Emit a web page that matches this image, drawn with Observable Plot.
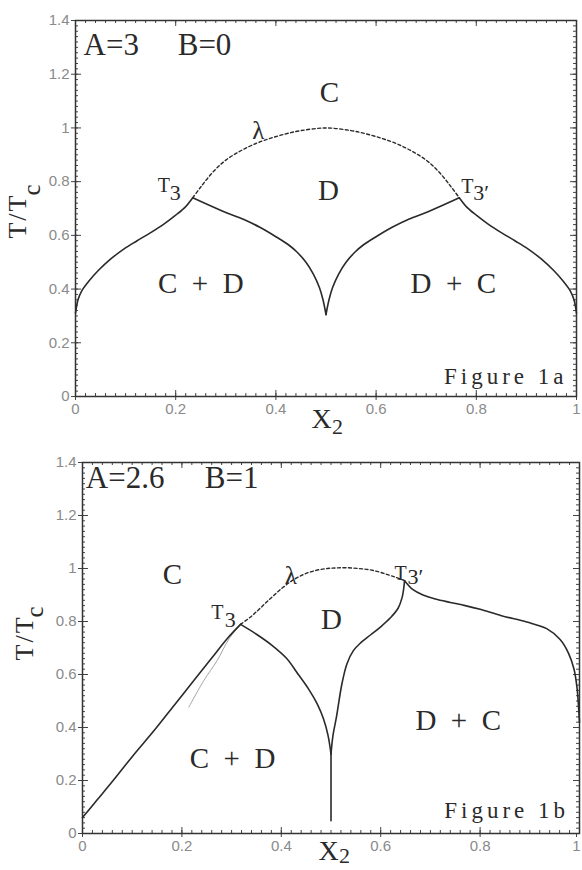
<!DOCTYPE html>
<html>
<head>
<meta charset="utf-8">
<script src="https://cdn.jsdelivr.net/npm/d3@7"></script>
<script src="https://cdn.jsdelivr.net/npm/@observablehq/plot@0.6"></script>
<style>
  body { margin: 0; background: #fff; }
  #wrap { position: relative; width: 582px; height: 870px; overflow: hidden; background: #fff; }
  #wrap svg { position: absolute; left: 0; }
</style>
</head>
<body>
<div id="wrap"></div>
<script>
// ---------- tick values ----------
const xTicks = [0, 0.2, 0.4, 0.6, 0.8, 1];
const yTicks = [0, 0.2, 0.4, 0.6, 0.8, 1, 1.2, 1.4];
const xMinor = d3.range(0, 1.0001, 0.02);
const yMinor = d3.range(0, 1.4001, 0.02);

// ---------- Figure 1a : A=3, B=0 ----------  [x2, T/Tc]
const a_lambda = [[0.234,0.74],[0.25,0.78],[0.274,0.835],[0.3,0.88],[0.33,0.915],[0.36,0.942],[0.39,0.962],[0.42,0.978],[0.45,0.99],[0.5,1.0],[0.55,0.99],[0.58,0.978],[0.61,0.962],[0.64,0.942],[0.67,0.915],[0.7,0.88],[0.726,0.835],[0.75,0.78],[0.766,0.74]];
const a_leftRise = [[0,0.31],[0.005,0.36],[0.013,0.395],[0.026,0.428],[0.045,0.468],[0.071,0.513],[0.097,0.55],[0.123,0.58],[0.15,0.61],[0.175,0.64],[0.2,0.675],[0.219,0.705],[0.234,0.74]];
const a_leftFall = [[0.234,0.74],[0.294,0.69],[0.335,0.66],[0.368,0.63],[0.4,0.595],[0.425,0.565],[0.442,0.538],[0.46,0.5],[0.475,0.455],[0.487,0.405],[0.494,0.36],[0.5,0.305]];
const a_rightRise = [[0.5,0.305],[0.506,0.36],[0.513,0.405],[0.525,0.455],[0.54,0.5],[0.558,0.538],[0.575,0.565],[0.6,0.595],[0.632,0.63],[0.665,0.66],[0.706,0.69],[0.766,0.74]];
const a_rightFall = [[0.766,0.74],[0.781,0.705],[0.8,0.675],[0.825,0.64],[0.85,0.61],[0.877,0.58],[0.903,0.55],[0.929,0.513],[0.955,0.468],[0.974,0.428],[0.987,0.395],[0.995,0.36],[1,0.31]];

const a_params = [{text:"A=3", x:0.016, y:1.27}, {text:"B=0", x:0.204, y:1.27}];
const a_phases = [{text:"C", x:0.507, y:1.095}, {text:"D", x:0.505, y:0.73}, {text:"C  +  D", x:0.25, y:0.387}, {text:"D  +  C", x:0.754, y:0.387}];
const a_lambdaTag = [{text:"λ", x:0.365, y:0.96}];
const a_tripleT = [{text:"T", x:0.164, y:0.76}, {text:"T", x:0.77, y:0.756}];
const a_tripleSub = [{text:"3", x:0.188, y:0.73}, {text:"3′", x:0.794, y:0.73}];
const a_figure = [{text:"Figure 1a", x:0.982, y:0.048}];
const a_xLabel = [{text:"X", x:0.471, y:-0.119}];
const a_xSub = [{text:"2", x:0.512, y:-0.141}];
const a_yLabel = [{text:"T/T", x:-0.0998, y:0.588}];
const a_ySub = [{text:"c", x:-0.07, y:0.748}];

// ---------- Figure 1b : A=2.6, B=1 ----------
const b_lambda = [[0.318,0.789],[0.34,0.82],[0.358,0.851],[0.38,0.89],[0.403,0.928],[0.425,0.958],[0.448,0.98],[0.47,0.993],[0.493,1.0],[0.51,1.002],[0.53,1.003],[0.555,1.0],[0.575,0.996],[0.595,0.988],[0.612,0.978],[0.63,0.967],[0.648,0.954]];
const b_leftRise = [[0,0.06],[0.03,0.128],[0.06,0.196],[0.1,0.29],[0.147,0.395],[0.185,0.485],[0.224,0.577],[0.26,0.662],[0.291,0.735],[0.318,0.789]];
const b_metastable = [[0.214,0.477],[0.244,0.577],[0.271,0.653],[0.295,0.735],[0.318,0.789]];
const b_leftFall = [[0.318,0.789],[0.35,0.752],[0.38,0.712],[0.41,0.662],[0.435,0.598],[0.455,0.545],[0.472,0.49],[0.485,0.432],[0.494,0.37],[0.5,0.3]];
const b_stem = [[0.5,0.3],[0.5,0.048]];
const b_midRise = [[0.5,0.3],[0.504,0.37],[0.511,0.44],[0.522,0.565],[0.532,0.64],[0.545,0.69],[0.56,0.72],[0.58,0.75],[0.6,0.78],[0.62,0.815],[0.635,0.85],[0.643,0.89],[0.646,0.92],[0.648,0.954]];
const b_rightFall = [[0.648,0.954],[0.665,0.92],[0.685,0.9],[0.71,0.885],[0.74,0.872],[0.77,0.86],[0.8,0.846],[0.843,0.822],[0.894,0.798],[0.934,0.773],[0.961,0.732],[0.978,0.68],[0.989,0.62],[0.995,0.55],[0.998,0.48],[1,0.42]];

const b_params = [{text:"A=2.6", x:0.0066, y:1.302}, {text:"B=1", x:0.246, y:1.302}];
const b_phases = [{text:"C", x:0.181, y:0.943}, {text:"D", x:0.501, y:0.77}, {text:"C  +  D", x:0.302, y:0.249}, {text:"D  +  C", x:0.756, y:0.392}];
const b_lambdaTag = [{text:"λ", x:0.419, y:0.94}];
const b_tripleT = [{text:"T", x:0.259, y:0.81}, {text:"T", x:0.628, y:0.958}];
const b_tripleSub = [{text:"3", x:0.286, y:0.781}, {text:"3′", x:0.654, y:0.94}];
const b_figure = [{text:"Figure 1b", x:0.979, y:0.057}];
const b_xLabel = [{text:"X", x:0.475, y:-0.1}];
const b_xSub = [{text:"2", x:0.516, y:-0.112}];
const b_yLabel = [{text:"T/T", x:-0.1, y:0.653}];
const b_ySub = [{text:"c", x:-0.079, y:0.815}];

// ---------- helpers ----------
const INK = "#2a2a2a";
const SERIF = "Liberation Serif";
const SANS = "Liberation Sans";
const TICK = "#444";
const TLAB = "#8a8a8a";

function frameAxes(W, H, lastDx) {
  const inner = (vals, dim, o) => dim === "x"
    ? Plot.ruleX(vals, {x: d => d, stroke: TICK, strokeWidth: 1, ...o})
    : Plot.ruleY(vals, {y: d => d, stroke: TICK, strokeWidth: 1, ...o});
  const lab = {stroke: TICK, fill: TLAB, fontSize: 15, fontFamily: SANS, label: null, tickFormat: d => String(d)};
  return [
    // minor inward ticks on all four sides
    inner(xMinor, "x", {insetTop: H - 3}),
    inner(xMinor, "x", {insetBottom: H - 3}),
    inner(yMinor, "y", {insetRight: W - 3}),
    inner(yMinor, "y", {insetLeft: W - 3}),
    // major inward ticks
    inner(xTicks, "x", {insetTop: H - 6}),
    inner(xTicks, "x", {insetBottom: H - 6}),
    inner(yTicks, "y", {insetRight: W - 6}),
    inner(yTicks, "y", {insetLeft: W - 6}),
    // outward ticks + labels
    Plot.axisX(xTicks.slice(0, -1), {anchor: "bottom", tickSize: 4, tickPadding: 3, ...lab}),
    Plot.axisX(xTicks.slice(-1), {anchor: "bottom", tickSize: 4, tickPadding: 3, ...lab, textAnchor: "middle", dx: lastDx}),
    Plot.axisY(yTicks, {anchor: "left", tickSize: 4, tickPadding: 2, ...lab}),
    Plot.frame({stroke: "#333", strokeWidth: 1.5})
  ];
}

const P = {x: d => d[0], y: d => d[1]};
const solid = (data) => Plot.line(data, {...P, curve: "catmull-rom", stroke: INK, strokeWidth: 1.6});
const dashed = (data) => Plot.line(data, {...P, curve: "catmull-rom", stroke: INK, strokeWidth: 1.4, strokeDasharray: "3,2.5"});
const txt = (data, o) => Plot.text(data, {x: "x", y: "y", text: "text", lineAnchor: "bottom", fill: INK, fontFamily: SERIF, ...o});

function panel(cfg) {
  const W = 582 - cfg.ml - cfg.mr, H = cfg.height - cfg.mt - cfg.mb;
  const svg = Plot.plot({
    width: 582,
    height: cfg.height,
    marginTop: cfg.mt, marginBottom: cfg.mb, marginLeft: cfg.ml, marginRight: cfg.mr,
    x: {domain: [0, 1], label: null},
    y: {domain: [0, 1.4], label: null},
    style: {background: "#fff"},
    marks: [
      ...frameAxes(W, H, cfg.lastDx),
      ...cfg.marks,
      txt(cfg.params, {fontSize: 31, textAnchor: "start"}),
      txt(cfg.phases, {fontSize: 29, textAnchor: "middle"}),
      txt(cfg.lambdaTag, {fontSize: 25, textAnchor: "middle"}),
      txt(cfg.tripleT, {fontSize: 20, textAnchor: "start"}),
      txt(cfg.tripleSub, {fontSize: 22, textAnchor: "start"}),
      txt(cfg.figure, {fontSize: 23, textAnchor: "end"}),
      txt(cfg.xLabel, {fontSize: 28, textAnchor: "start"}),
      txt(cfg.xSub, {fontSize: 22, textAnchor: "start"}),
      txt(cfg.yLabel, {fontSize: 26, textAnchor: "start", rotate: -90}),
      txt(cfg.ySub, {fontSize: 25, textAnchor: "start", rotate: -90})
    ]
  });
  // typewriter-like spacing for the figure tag and the axis label
  d3.select(svg).selectAll("text")
    .filter(function () { return /^Figure/.test(this.textContent); })
    .style("letter-spacing", "4px");
  d3.select(svg).selectAll("text")
    .filter(function () { return this.textContent === "T/T"; })
    .style("letter-spacing", "2px");
  return svg;
}

const wrap = document.getElementById("wrap");

const figA = panel({
  height: 440, mt: 20, mb: 44, ml: 75, mr: 6, lastDx: 0,
  marks: [dashed(a_lambda), solid(a_leftRise), solid(a_leftFall), solid(a_rightRise), solid(a_rightFall)],
  params: a_params, phases: a_phases, lambdaTag: a_lambdaTag, tripleT: a_tripleT, tripleSub: a_tripleSub,
  figure: a_figure, xLabel: a_xLabel, xSub: a_xSub, yLabel: a_yLabel, ySub: a_ySub
});
figA.style.top = "0px";
wrap.appendChild(figA);

const figB = panel({
  height: 430, mt: 22, mb: 37, ml: 82, mr: 3, lastDx: -3,
  marks: [
    Plot.line(b_metastable, {...P, curve: "catmull-rom", stroke: "#9a9a9a", strokeWidth: 0.9}),
    dashed(b_lambda), solid(b_leftRise), solid(b_leftFall), solid(b_stem), solid(b_midRise), solid(b_rightFall)
  ],
  params: b_params, phases: b_phases, lambdaTag: b_lambdaTag, tripleT: b_tripleT, tripleSub: b_tripleSub,
  figure: b_figure, xLabel: b_xLabel, xSub: b_xSub, yLabel: b_yLabel, ySub: b_ySub
});
figB.style.top = "440px";
wrap.appendChild(figB);
</script>
</body>
</html>
